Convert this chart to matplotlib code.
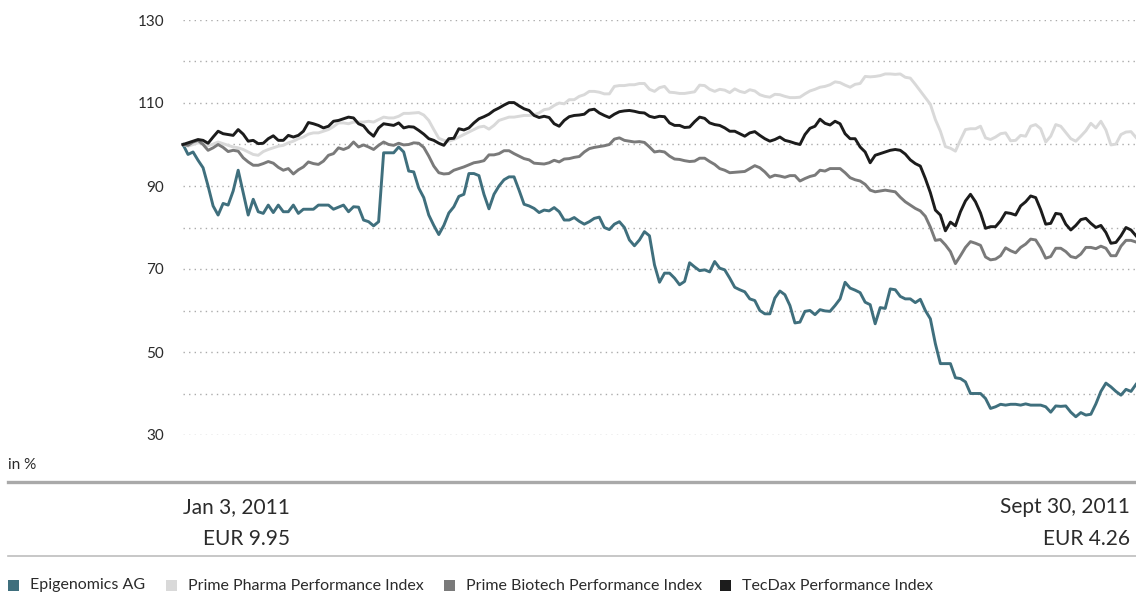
import numpy as np
import matplotlib
matplotlib.use("Agg")
import matplotlib.pyplot as plt
from matplotlib.lines import Line2D
from matplotlib.patches import Rectangle

plt.rcParams['font.family'] = ['Lato', 'DejaVu Sans']

# ---------------- data (indexed to 100 on Jan 3, 2011; one value per trading day) ----------------
epigenomics = [
    100, 97.6, 98.2, 96.2, 94.4, 90, 85.2, 83, 85.8, 85.4,
    88.8, 93.8, 88.4, 83, 86.8, 83.8, 83.4, 85.4, 83.6, 85.4,
    83.8, 83.8, 85.4, 83.4, 84.4, 84.4, 84.4, 85.4, 85.4, 85.4,
    84.4, 84.9, 85.4, 83.8, 85, 84.9, 81.8, 81.4, 80.4, 81.4,
    98, 98, 98, 99.4, 98.2, 93.6, 93.4, 89.5, 87.2, 83,
    80.5, 78.3, 80.5, 83.5, 85, 87.5, 88, 93, 93, 92.5,
    88, 84.5, 88, 90, 91.5, 92.2, 92.2, 89, 85.6, 85.2,
    84.6, 83.6, 84.2, 84, 84.8, 83.8, 81.8, 81.8, 82.4, 81.5,
    80.8, 81.4, 82.2, 82.5, 80, 79.5, 80.8, 81.4, 80, 77,
    75.6, 77, 79, 78, 71, 66.8, 69, 69, 67.8, 66.2,
    67, 71.5, 70.5, 69.6, 69.8, 69.3, 71.8, 70.2, 69.8, 67.8,
    65.6, 65, 64.5, 62.8, 62.4, 60, 59.2, 59.2, 63, 64.7,
    63.8, 61.2, 57, 57.2, 59.8, 60, 59, 60.2, 59.9, 59.8,
    61.2, 62.8, 66.8, 65.4, 64.9, 64.3, 62, 61.4, 56.8, 60.7,
    60.5, 65.2, 65, 63.4, 62.8, 62.8, 61.9, 62.7, 60, 58,
    52, 47.2, 47.2, 47.2, 43.8, 43.6, 42.8, 40, 40, 40,
    38.8, 36.4, 36.8, 37.4, 37.2, 37.4, 37.4, 37.2, 37.5, 37.2,
    37.2, 37.2, 36.8, 35.5, 37, 36.9, 37, 35.5, 34.4, 35.4,
    34.8, 35, 37.5, 40.5, 42.5, 41.6, 40.5, 39.6, 41, 40.5,
    42.2,
]

prime_pharma = [
    100, 99.6, 100, 100.4, 100.2, 99.7, 100.1, 100.6, 100.2, 99.8,
    99.4, 99.2, 98.8, 98.2, 97.6, 97.4, 98.3, 98.8, 99.2, 99.6,
    99.8, 100.4, 100.8, 101.4, 101.8, 102.5, 102.8, 102.8, 103.2, 103.6,
    104.3, 105.2, 105.2, 105, 105.4, 105.4, 105.4, 105.6, 105.4, 106,
    106.6, 106.4, 106.4, 106.8, 107.5, 107.5, 107.6, 107.7, 107.1, 105.8,
    103.6, 101.5, 101, 100.8, 101.2, 101.8, 102.4, 103, 103.6, 104.2,
    104.4, 103.7, 104.6, 105.8, 106.2, 106.6, 106.6, 106.8, 107, 107,
    107.2, 107.6, 108.4, 108.6, 109.4, 110, 109.8, 110.8, 110.8, 111.6,
    112, 112.8, 112.8, 112.6, 112.2, 112.2, 114, 114.2, 114.2, 114.4,
    114.4, 114.7, 114.7, 113.3, 112.8, 113.7, 114, 112.6, 112.5, 112.3,
    112.3, 112.5, 112.7, 114.3, 114.2, 113.3, 112.8, 113.3, 113.1, 112.5,
    113.4, 112.8, 112.5, 113.2, 112.9, 112, 111.6, 111.4, 112.1, 112,
    111.6, 111.3, 111.3, 111.4, 112.2, 112.9, 113.3, 113.8, 114, 114.4,
    115.1, 114.9, 114.3, 113.8, 114.5, 114.7, 116.4, 116.3, 116.4, 116.6,
    117, 117, 116.9, 117, 116.2, 116, 114.5, 112.9, 111.3, 109.7,
    106, 103.2, 99.5, 99.1, 98.4, 101.1, 103.6, 103.8, 103.8, 104.4,
    101.6, 101.2, 101.8, 102.6, 102.8, 100.9, 101, 102.2, 102, 104.4,
    104.8, 103.8, 100.6, 102, 104.8, 104.4, 102.9, 101.4, 100.8, 102,
    103.3, 105.1, 104, 105.6, 103.5, 99.9, 100.1, 102.4, 103, 103.1,
    101.7,
]

prime_biotech = [
    100, 99.8, 100.6, 101, 100, 98.6, 99.2, 100, 99.3, 98.3,
    98.6, 98.4, 96.8, 95.8, 95, 95, 95.4, 95.9, 95.5, 94.5,
    93.8, 94.2, 92.9, 93.9, 94.6, 95.8, 95.4, 95.2, 96, 97.4,
    97.8, 99.2, 98.8, 99.3, 100.6, 99.4, 99.9, 99.4, 98.8, 99.8,
    100.6, 100, 99.8, 100.3, 99.9, 100, 100.4, 100.3, 99.3, 97.2,
    94.8, 93.2, 92.9, 93, 93.8, 94.2, 94.6, 95.1, 95.6, 95.8,
    96.1, 97.5, 97.5, 97.8, 98.5, 98.5, 97.8, 97.2, 96.6, 96.3,
    95.5, 95.4, 95.3, 95.6, 96.2, 95.8, 96.5, 96.6, 96.9, 97.1,
    98.2, 99, 99.3, 99.5, 99.7, 100, 101.3, 101.6, 101, 100.8,
    100.6, 100.7, 100.5, 99.4, 98.2, 98.4, 98.2, 97.2, 96.5, 96.4,
    96.1, 95.9, 96, 96.7, 96.7, 95.9, 95.2, 94.2, 93.8, 93.2,
    93.3, 93.4, 93.5, 94.2, 94.9, 94.4, 93.4, 92.1, 92.6, 92.4,
    92.1, 92.5, 92.5, 91.2, 91.8, 92.3, 92.6, 93.8, 93.6, 94.2,
    94.2, 94.2, 93.2, 92, 91.5, 91.2, 90.4, 89, 88.6, 88.8,
    89, 88.8, 88.6, 87.3, 86.2, 85.4, 84.6, 84, 82.7, 80.1,
    76.9, 77.1, 75.8, 74.2, 71.3, 73.2, 75.2, 76.6, 76.2, 75.7,
    72.9, 72.2, 72.4, 73.2, 75.1, 74.4, 73.9, 75.2, 76, 77.2,
    77, 75.1, 72.6, 73, 75, 75, 74.2, 73, 72.7, 73.6,
    75.2, 75.2, 74.9, 75.5, 75, 73.2, 73.2, 75.5, 76.9, 76.9,
    76.5,
]

tecdax = [
    100, 100.4, 100.8, 101.2, 101, 100.3, 101.8, 103.2, 102.6, 102.4,
    102.2, 103.6, 102.5, 100.8, 101, 100.2, 100.3, 101.4, 102.1, 101,
    101, 102.2, 101.8, 102.2, 103.2, 105.3, 105, 104.6, 104, 104.4,
    105.6, 105.8, 106.2, 106.6, 106.4, 105, 104.5, 103, 102, 104,
    105, 104.8, 104.6, 105.2, 104, 104.3, 104.2, 103.4, 102.5, 101.4,
    101, 100.3, 99.8, 101.4, 101.5, 103.8, 103.5, 104, 105.2, 106.2,
    106.7, 107.3, 108.2, 108.8, 109.5, 110.1, 110.1, 109.3, 108.6, 108.2,
    107, 106.5, 106.8, 106.5, 105, 104.4, 105.8, 106.7, 107, 107.1,
    107.3, 108.3, 108.5, 107.6, 107, 106.5, 107.3, 107.9, 108.1, 108.2,
    108, 107.7, 107.6, 106.8, 106.5, 106.8, 106.7, 105.2, 104.6, 104.6,
    104.1, 104.2, 105.5, 106.6, 106.3, 105.2, 104.8, 104.6, 104, 103.2,
    103.2, 102.6, 102, 102.8, 103.1, 102.2, 101.4, 100.8, 101.2, 101.8,
    101, 100.7, 100.3, 100, 102.4, 103.9, 104.4, 106.1, 105.1, 104.7,
    105.6, 105, 102.6, 101.4, 101.4, 99.4, 98.2, 95.6, 97.4, 97.8,
    98.2, 98.6, 98.8, 98.6, 97.7, 96.3, 95.4, 94.8, 91.8, 88.4,
    84.2, 83, 79.2, 81.3, 80.4, 83.8, 86.4, 88, 86.2, 83.5,
    79.8, 80.2, 80.2, 81.6, 83.6, 83.4, 83, 85.2, 86.2, 87.6,
    87.2, 84.3, 80.8, 81, 83.4, 83.2, 80.8, 79.4, 80.5, 81.9,
    82.2, 81, 80, 80.5, 78.8, 76.2, 76.4, 78, 80, 79.4,
    78,
]

series_names = ["Epigenomics AG", "Prime Pharma Performance Index",
                "Prime Biotech Performance Index", "TecDax Performance Index"]
series_colors = ["#3f6f7d", "#d9d9d9", "#7a7a7a", "#1c1c1c"]

ytick_values = [30, 50, 70, 90, 110, 130]
grid_values = [30, 40, 50, 60, 70, 80, 90, 100, 110, 120, 130]

start_label = "Jan 3, 2011"
start_price = "EUR 9.95"
end_label = "Sept 30, 2011"
end_price = "EUR 4.26"
unit_label = "in %"

# ---------------- figure ----------------
W, H = 1136, 597
fig = plt.figure(figsize=(W / 100, H / 100), dpi=100)


def fx(px):
    return px / W


def fy(py):
    return 1 - py / H


ax_l, ax_r, ax_t, ax_b = 183, 1136, 20, 435
ax = fig.add_axes([fx(ax_l), fy(ax_b), (ax_r - ax_l) / W, (ax_b - ax_t) / H])

days = np.arange(len(epigenomics))
ax.set_xlim(0, len(days) - 1)
ax.set_ylim(30, 130)

for g in grid_values:
    ax.axhline(g, color="#ababab", lw=1.0, linestyle=(0, (1, 3)), zorder=1)

order = [1, 2, 3, 0]
data = [epigenomics, prime_pharma, prime_biotech, tecdax]
for k in order:
    ax.plot(days, data[k], color=series_colors[k], lw=2.1, zorder=3 + k,
            solid_joinstyle="round", clip_on=False)

for s in ax.spines.values():
    s.set_visible(False)
ax.set_xticks([])
ax.set_yticks(ytick_values)
ax.set_yticklabels([str(v) for v in ytick_values])
ax.tick_params(axis="y", length=0, pad=13.5, labelsize=11, labelcolor="#2b2b2b")

# unit label and separator lines
fig.text(fx(8), fy(465), unit_label, ha="left", va="center", fontsize=11, color="#2b2b2b")
fig.add_artist(Line2D([fx(8), fx(1136)], [fy(482), fy(482)], color="#a9a9a9", lw=2.4))
fig.add_artist(Line2D([fx(8), fx(1136)], [fy(556), fy(556)], color="#bdbdbd", lw=1.2))

# start / end annotations
fig.text(fx(290), fy(507), start_label, ha="right", va="center", fontsize=15, color="#2b2b2b")
fig.text(fx(290), fy(539), start_price, ha="right", va="center", fontsize=15, color="#2b2b2b")
fig.text(fx(1130), fy(507), end_label, ha="right", va="center", fontsize=15, color="#2b2b2b")
fig.text(fx(1130), fy(539), end_price, ha="right", va="center", fontsize=15, color="#2b2b2b")

# legend
legend_sq_x = [8, 166, 444, 720]
for name, col, sx in zip(series_names, series_colors, legend_sq_x):
    fig.add_artist(Rectangle((fx(sx), fy(591)), 11 / W, 11 / H, transform=fig.transFigure,
                             facecolor=col, edgecolor="none"))
    fig.text(fx(sx + 22), fy(585.5), name, ha="left", va="center", fontsize=11.5, color="#2b2b2b")

fig.savefig("out.png", dpi=100)
